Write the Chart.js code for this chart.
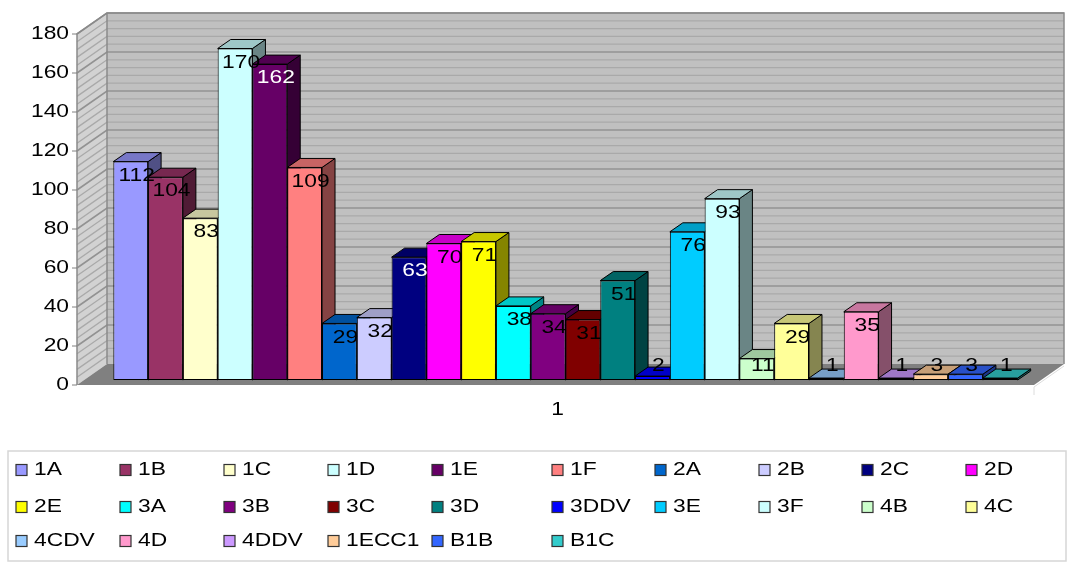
<!DOCTYPE html>
<html>
<head>
<meta charset="utf-8">
<script src="https://cdn.jsdelivr.net/npm/chart.js@4.4.1/dist/chart.umd.min.js"></script>
<style>
  html, body { margin: 0; padding: 0; background: #fff; }
  canvas { display: block; }
</style>
</head>
<body>
<canvas id="chart" width="1072" height="566"></canvas>
<script>
// ---- data ----
const categories = ['1'];
const seriesNames = ['1A', '1B', '1C', '1D', '1E', '1F', '2A', '2B', '2C', '2D',
                     '2E', '3A', '3B', '3C', '3D', '3DDV', '3E', '3F', '4B', '4C',
                     '4CDV', '4D', '4DDV', '1ECC1', 'B1B', 'B1C'];
const seriesValues = [112, 104, 83, 170, 162, 109, 29, 32, 63, 70,
                      71, 38, 34, 31, 51, 2, 76, 93, 11, 29,
                      1, 35, 1, 3, 3, 1];
const seriesColors = ['#9999FF', '#993366', '#FFFFCC', '#CCFFFF', '#660066', '#FF8080', '#0066CC', '#CCCCFF', '#000080', '#FF00FF',
                      '#FFFF00', '#00FFFF', '#800080', '#800000', '#008080', '#0000FF', '#00CCFF', '#CCFFFF', '#CCFFCC', '#FFFF99',
                      '#99CCFF', '#FF99CC', '#CC99FF', '#FFCC99', '#3366FF', '#33CCCC'];
const whiteLabelSeries = ['1E', '2C'];
const yMin = 0, yMax = 180, yStep = 20;

// ---- drawing helpers ----
const FONT = '19px "Liberation Sans", Arial, sans-serif';
const TEXT_STRETCH = 1.2;           // wide lettering
const BOX_DEPTH = { x: 30, y: -21 };  // depth of the walls / floor
const WALL_FRONT = { x: -10, y: 5 };  // front plane relative to the bar faces
const BAR_DEPTH = { x: 13, y: -9 };   // depth of each column

function wideText(ctx, txt, x, y, align) {
  ctx.save();
  ctx.translate(x, y);
  ctx.scale(TEXT_STRETCH, 1);
  ctx.font = FONT;
  ctx.textAlign = align;
  ctx.textBaseline = 'middle';
  ctx.fillText(txt, 0, 0);
  ctx.restore();
}

function shade(hex, f) {
  const n = parseInt(hex.slice(1), 16);
  const r = Math.round(((n >> 16) & 255) * f);
  const g = Math.round(((n >> 8) & 255) * f);
  const b = Math.round((n & 255) * f);
  return `rgb(${r},${g},${b})`;
}

function poly(ctx, pts, fill, stroke, lw) {
  ctx.beginPath();
  ctx.moveTo(pts[0][0], pts[0][1]);
  for (let i = 1; i < pts.length; i++) ctx.lineTo(pts[i][0], pts[i][1]);
  ctx.closePath();
  if (fill) { ctx.fillStyle = fill; ctx.fill(); }
  if (stroke) { ctx.strokeStyle = stroke; ctx.lineWidth = lw || 1; ctx.stroke(); }
}

// Walls, floor, extruded columns and value labels
const columns3d = {
  id: 'columns3d',
  beforeDatasetsDraw(chart) {
    const { ctx, chartArea: ca, scales: { y } } = chart;
    const fl = ca.left + WALL_FRONT.x, fr = ca.right + WALL_FRONT.x;
    const bl = fl + BOX_DEPTH.x, br = fr + BOX_DEPTH.x;
    const yf = v => y.getPixelForValue(v) + WALL_FRONT.y;
    const yb = v => yf(v) + BOX_DEPTH.y;

    ctx.save();
    // back wall
    ctx.fillStyle = '#c0c0c0';
    ctx.fillRect(bl, yb(yMax), br - bl, yb(yMin) - yb(yMax));
    // left wall
    poly(ctx, [[fl, yf(yMin)], [fl, yf(yMax)], [bl, yb(yMax)], [bl, yb(yMin)]], '#d2d2d2');

    // gridlines on both walls
    for (let v = yMin + 4; v <= yMax; v += 4) {
      const major = v % yStep === 0;
      ctx.strokeStyle = major ? '#929292' : '#a9a9a9';
      ctx.lineWidth = major ? 1.6 : 1.3;
      ctx.beginPath();
      ctx.moveTo(fl, yf(v));
      ctx.lineTo(bl, yb(v));
      ctx.lineTo(br, yb(v));
      ctx.stroke();
    }
    // wall edges
    ctx.strokeStyle = '#8a8a8a';
    ctx.lineWidth = 1.5;
    ctx.beginPath();
    ctx.moveTo(fl, yf(yMin));
    ctx.lineTo(fl, yf(yMax));
    ctx.lineTo(bl, yb(yMax));
    ctx.lineTo(br, yb(yMax));
    ctx.lineTo(br, yb(yMin));
    ctx.moveTo(bl, yb(yMax));
    ctx.lineTo(bl, yb(yMin));
    ctx.stroke();

    // floor
    poly(ctx, [[fl, yf(yMin)], [fr, yf(yMin)], [br, yb(yMin)], [bl, yb(yMin)]], '#808080');
    ctx.strokeStyle = '#dcdcdc';
    ctx.lineWidth = 1;
    ctx.beginPath();
    ctx.moveTo(fr, yf(yMin) + 2);
    ctx.lineTo(br, yb(yMin) + 2);
    ctx.moveTo(fr, yf(yMin) + 2);
    ctx.lineTo(fr, yf(yMin) + 10);
    ctx.stroke();

    // y axis ticks and labels
    ctx.fillStyle = '#000';
    y.ticks.forEach(t => {
      const py = yf(t.value);
      ctx.strokeStyle = '#808080';
      ctx.lineWidth = 1;
      ctx.beginPath();
      ctx.moveTo(fl - 5, py);
      ctx.lineTo(fl, py);
      ctx.stroke();
      wideText(ctx, String(t.value), fl - 8, py, 'right');
    });

    // columns, left to right so nearer faces cover hidden sides
    const metas = chart.getSortedVisibleDatasetMetas().slice().sort((a, b) => a.index - b.index);
    const tops = [];
    metas.forEach(meta => {
      meta.data.forEach(el => {
        const p = el.getProps(['x', 'y', 'base', 'width'], true);
        const l = p.x - p.width / 2, r = p.x + p.width / 2;
        const col = seriesColors[meta.index];
        const dx = BAR_DEPTH.x, dy = BAR_DEPTH.y;
        poly(ctx, [[r, p.y], [r + dx, p.y + dy], [r + dx, p.base + dy], [r, p.base]], shade(col, 0.52), '#000', 1);
        poly(ctx, [[l, p.y], [r, p.y], [r + dx, p.y + dy], [l + dx, p.y + dy]], shade(col, 0.78), '#000', 1);
        el.draw(ctx, ca);
        tops.push({ x: p.x, y: p.y, idx: meta.index });
      });
    });

    // value labels
    tops.forEach(t => {
      ctx.fillStyle = whiteLabelSeries.includes(seriesNames[t.idx]) ? '#fff' : '#000';
      wideText(ctx, String(seriesValues[t.idx]), t.x + 6, Math.min(t.y + 14, 366), 'center');
    });
    ctx.restore();
    return false;
  },
  afterDraw(chart) {
    const { ctx, chartArea: ca, scales: { x, y } } = chart;
    ctx.save();
    ctx.fillStyle = '#000';
    // category label
    categories.forEach((c, i) => {
      wideText(ctx, c, x.getPixelForValue(i) + WALL_FRONT.x + 2, y.getPixelForValue(yMin) + 30, 'center');
    });

    // legend
    ctx.strokeStyle = '#d6d6d6';
    ctx.lineWidth = 1.5;
    ctx.strokeRect(8, 451, 1058, 110);
    const colX = [16, 120, 224, 328, 432, 552, 655, 759, 862, 966];
    const rowY = [470, 507, 541];
    chart.data.datasets.forEach((ds, i) => {
      const bx = colX[i % 10], by = rowY[Math.floor(i / 10)];
      ctx.fillStyle = ds.backgroundColor;
      ctx.fillRect(bx, by - 5.5, 11, 11);
      ctx.strokeStyle = '#333';
      ctx.lineWidth = 1.2;
      ctx.strokeRect(bx, by - 5.5, 11, 11);
      ctx.fillStyle = '#000';
      wideText(ctx, ds.label, bx + 18, by, 'left');
    });
    ctx.restore();
  }
};

new Chart(document.getElementById('chart'), {
  type: 'bar',
  data: {
    labels: categories,
    datasets: seriesNames.map((name, i) => ({
      label: name,
      data: [seriesValues[i]],
      backgroundColor: seriesColors[i]
    }))
  },
  options: {
    responsive: false,
    animation: false,
    devicePixelRatio: 1,
    layout: { padding: { left: 3, right: 28, top: 29, bottom: 0 } },
    datasets: {
      bar: {
        barPercentage: 1,
        categoryPercentage: 0.945,
        borderWidth: 1,
        borderColor: '#000',
        borderSkipped: false
      }
    },
    plugins: {
      legend: { display: false },
      tooltip: { enabled: false }
    },
    scales: {
      x: {
        grid: { display: false },
        border: { display: false },
        ticks: { display: false },
        afterFit(s) { s.height = 186; }
      },
      y: {
        min: yMin,
        max: yMax,
        ticks: { stepSize: yStep, display: false },
        grid: { display: false },
        border: { display: false },
        afterFit(s) { s.width = 84; }
      }
    }
  },
  plugins: [columns3d]
});
</script>
</body>
</html>
